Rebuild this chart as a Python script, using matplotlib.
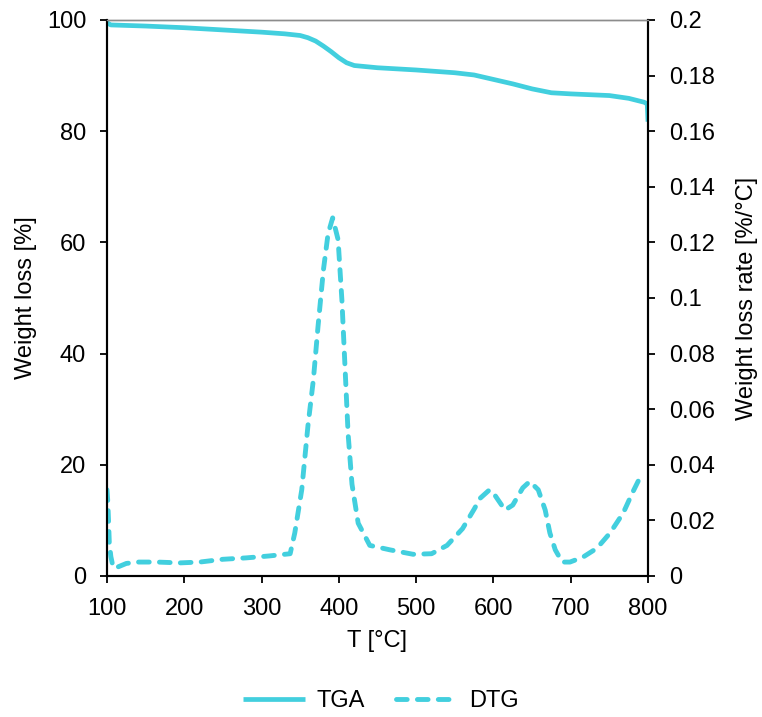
import numpy as np
import matplotlib.pyplot as plt

plt.rcParams['font.family'] = ['Liberation Sans', 'DejaVu Sans']

# TGA curve, weight loss [%] vs T [°C]
tga_t = [100, 105, 150, 200, 250, 300, 330, 350, 360, 370, 380, 390, 400, 410, 420,
         435, 450, 500, 550, 575, 600, 625, 650, 675, 700, 750, 775, 795, 799, 800]
tga_w = [99.5, 99.1, 98.9, 98.6, 98.2, 97.8, 97.5, 97.2, 96.8, 96.2, 95.3, 94.3, 93.2,
         92.3, 91.8, 91.6, 91.4, 91.0, 90.5, 90.1, 89.3, 88.5, 87.6, 86.9, 86.7,
         86.4, 85.9, 85.2, 84.9, 81.7]

# DTG curve, weight loss rate [%/°C] vs T [°C]
dtg_t = [100, 101, 102, 103, 105, 108, 112, 125, 139, 165, 194, 220, 250, 280, 310,
         337, 343, 352, 360, 367, 373, 380, 386, 392, 399, 404, 408, 412, 417, 425,
         440, 466, 496, 520, 540, 560, 575, 583, 595, 602, 615, 625, 638, 647, 658,
         667, 673, 680, 689, 699, 716, 734, 751, 768, 780, 788, 795]
dtg_r = [0.031, 0.027, 0.020, 0.012, 0.007, 0.003, 0.003, 0.0045, 0.005, 0.005, 0.0047,
         0.005, 0.006, 0.0065, 0.0072, 0.008, 0.0155, 0.031, 0.054, 0.0705, 0.0896,
         0.110, 0.123, 0.1288, 0.121, 0.099, 0.075, 0.051, 0.033, 0.019, 0.011,
         0.0094, 0.0078, 0.008, 0.011, 0.017, 0.024, 0.028, 0.031, 0.029, 0.0237,
         0.0255, 0.0317, 0.034, 0.031, 0.0237, 0.0155, 0.0094, 0.005, 0.005, 0.0068,
         0.010, 0.0155, 0.0227, 0.030, 0.0345, 0.037]

col = '#42CFDE'
fs = 17

fig = plt.figure(figsize=(7.62, 7.17), dpi=100)
ax = fig.add_axes([0.1404, 0.1967, 0.71, 0.7755])
ax2 = ax.twinx()

l1, = ax.plot(tga_t, tga_w, color=col, lw=3.4, solid_capstyle='butt', label='TGA')
l2, = ax2.plot(dtg_t, dtg_r, color=col, lw=3.5, dash_capstyle='round',
               linestyle=(0, (2.2, 2.1)), label='DTG')

ax.set_xlim(100, 800)
ax.set_ylim(0, 100)
ax2.set_ylim(0, 0.2)
ax.set_xticks(np.arange(100, 801, 100))
ax.set_yticks(np.arange(0, 101, 20))
ax2.set_yticks(np.arange(0, 0.201, 0.02))
ax2.set_yticklabels(['0', '0.02', '0.04', '0.06', '0.08', '0.1', '0.12', '0.14',
                     '0.16', '0.18', '0.2'])

for a in (ax, ax2):
    a.tick_params(direction='out', length=5, width=1.3, labelsize=fs, color='black')
    a.spines['top'].set_color('#8c8c8c')
    a.spines['top'].set_linewidth(1)
    for s in ('left', 'right', 'bottom'):
        a.spines[s].set_linewidth(1.5)
        a.spines[s].set_color('black')

ax.tick_params(axis='x', pad=11)
ax.tick_params(axis='y', pad=10)
ax2.tick_params(axis='y', pad=10)

ax.set_xlabel('T [°C]', fontsize=fs, labelpad=7)
ax.set_ylabel('Weight loss [%]', fontsize=fs, labelpad=7)
ax2.set_ylabel('Weight loss rate [%/°C]', fontsize=fs, labelpad=15)

fig.legend(handles=[l1, l2], loc='center', bbox_to_anchor=(0.5, 0.022), ncol=2,
           frameon=False, fontsize=fs, handlelength=2.6, columnspacing=1.3,
           handletextpad=0.5)

fig.savefig('out.png', dpi=100)
